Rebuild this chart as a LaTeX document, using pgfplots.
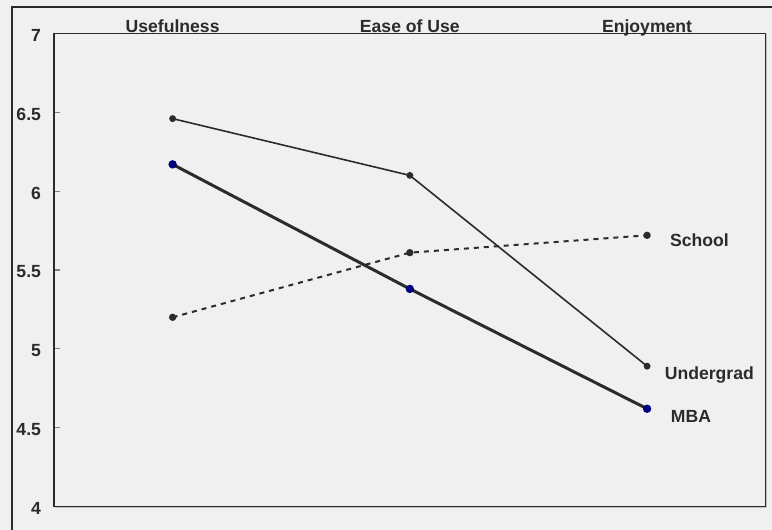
\documentclass[border=0pt]{standalone}
\usepackage{fontspec}
\setmainfont{Liberation Sans}
\usepackage{pgfplots}
\pgfplotsset{compat=1.18}
\definecolor{bg}{HTML}{F0F0F0}
\definecolor{ln}{HTML}{2B2B2B}
\definecolor{navy}{HTML}{00007F}
\begin{document}
\begin{tikzpicture}
\fill[bg] (-27pt,-11.75pt) rectangle (359pt,253.25pt);
\draw[ln, line width=1pt] (-21pt,-13pt) -- (-21pt,249.75pt) -- (361pt,249.75pt);
\draw[gray!50, line width=0.6pt] (0.5pt,-0.6pt) -- (356.4pt,-0.6pt) -- (356.4pt,236pt);
\begin{axis}[
 scale only axis, width=355.85pt, height=236.5pt,
 xmin=-0.5, xmax=2.5, ymin=4, ymax=7,
 xtick={0,1,2}, xticklabels={Usefulness,Ease of Use,Enjoyment},
 xticklabel pos=right,
 ytick={4,4.5,5,5.5,6,6.5,7},
 yticklabels={4,4.5,5,5.5,6,6.5,7},
 tick align=inside,
 ytick pos=left,
 major tick length=3pt,
 xtick style={draw=none},
 ytick style={color=gray, line width=0.6pt},
 axis line style={ln, line width=0.8pt},
 ticklabel style={font=\fontsize{8.8}{10}\selectfont\bfseries, text=ln},
 xticklabel style={anchor=base, yshift=0.25pt},
 yticklabel style={xshift=-3pt, yshift=-1pt},
 /pgf/number format/assume math mode=true,
 clip=false,
]
\addplot[ln, line width=1pt, dash pattern=on 2.5pt off 2.5pt, mark=*, mark size=1.3pt, mark options={solid, fill=ln, draw=ln}]
 coordinates {(0,5.20) (1,5.61) (2,5.72)}
 node[pos=1, anchor=base west, inner sep=0pt, xshift=11pt, yshift=-5.35pt, font=\fontsize{8.8}{10}\selectfont\bfseries, text=ln] {School};
\addplot[ln, line width=0.8pt, mark=*, mark size=1.3pt, mark options={fill=ln, draw=ln}]
 coordinates {(0,6.46) (1,6.10) (2,4.89)}
 node[pos=1, anchor=base west, inner sep=0pt, xshift=8.5pt, yshift=-6.65pt, font=\fontsize{8.8}{10}\selectfont\bfseries, text=ln] {Undergrad};
\addplot[ln, line width=1.5pt, mark=*, mark size=1.3pt, mark options={fill=navy, draw=navy}]
 coordinates {(0,6.17) (1,5.38) (2,4.62)}
 node[pos=1, anchor=base west, inner sep=0pt, xshift=11.2pt, yshift=-7pt, font=\fontsize{8.8}{10}\selectfont\bfseries, text=ln] {MBA};
\end{axis}
\pgfresetboundingbox
\useasboundingbox (-27pt,-11.75pt) rectangle (359pt,253.25pt);
\end{tikzpicture}
\end{document}
